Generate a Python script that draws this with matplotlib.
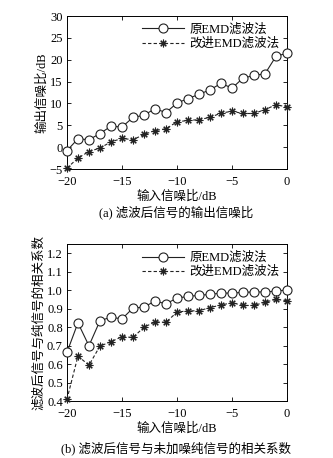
import matplotlib
matplotlib.use('Agg')
import matplotlib.pyplot as plt
import numpy as np

plt.rcParams['font.family'] = ['Liberation Serif', 'Noto Sans CJK SC']
plt.rcParams['axes.unicode_minus'] = True

# input SNR (dB)
snr_in = np.arange(-20, 1, 1)

# (a) output SNR
out_orig = [-0.8, 1.9, 1.7, 3.1, 4.8, 4.6, 6.8, 7.3, 8.8, 7.9, 10.1,
            11.1, 12.1, 13.1, 14.6, 13.5, 15.8, 16.4, 16.8, 20.8, 21.5]
out_impr = [-4.8, -2.5, -1.0, -0.2, 1.2, 2.0, 1.7, 2.9, 3.8, 4.2, 5.8,
            6.1, 6.3, 6.8, 7.8, 8.2, 7.7, 7.7, 8.6, 9.7, 9.2]

# (b) correlation coefficient
cor_orig = [0.664, 0.824, 0.700, 0.835, 0.855, 0.845, 0.904, 0.909, 0.942, 0.927, 0.958,
            0.967, 0.973, 0.978, 0.985, 0.985, 0.989, 0.991, 0.991, 0.996, 1.002]
cor_impr = [0.410, 0.644, 0.595, 0.698, 0.722, 0.749, 0.745, 0.800, 0.829, 0.827, 0.882,
            0.889, 0.889, 0.907, 0.920, 0.933, 0.918, 0.918, 0.936, 0.951, 0.944]

lab_orig = '原EMD滤波法'
lab_impr = '改进EMD滤波法'

fig = plt.figure(figsize=(3.33, 4.58), dpi=100)
ax1 = fig.add_axes([0.201, 0.631, 0.661, 0.334])
ax2 = fig.add_axes([0.201, 0.124, 0.661, 0.343])


def style(ax):
    ax.tick_params(direction='in', top=True, right=True, labelsize=9, length=3, width=0.6, pad=3)
    ax.tick_params(axis='x', pad=5)
    for s in ax.spines.values():
        s.set_linewidth(0.7)
    ax.set_xlim(-20, 0)
    ax.set_xticks([-20, -15, -10, -5, 0])


asterisk = (8, 2, 0)

for ax, yo, yi in [(ax1, out_orig, out_impr), (ax2, cor_orig, cor_impr)]:
    ax.plot(snr_in, yo, '-', color='#222222', lw=0.8, marker='o', ms=6.5,
            mfc='white', mec='#222222', mew=0.8, label=lab_orig, clip_on=False, zorder=3)
    ax.plot(snr_in, yi, color='#222222', lw=0.8, ls=(0, (3, 2)), marker=asterisk, ms=5.5,
            mec='#222222', mew=0.8, label=lab_impr, clip_on=False, zorder=3)
    style(ax)
    ax.legend(loc='upper right', frameon=False, fontsize=9, handlelength=3.4,
              borderaxespad=0.2, labelspacing=0.15, handletextpad=0.4)
    ax.set_xlabel('输入信噪比/dB', fontsize=9, labelpad=2)

ax1.set_ylim(-5, 30)
ax1.set_yticks(np.arange(-5, 31, 5))
ax1.set_ylabel('输出信噪比/dB', fontsize=9, labelpad=1)

ax2.set_ylim(0.4, 1.25)
ax2.set_yticks(np.arange(0.4, 1.21, 0.1))
ax2.set_yticklabels(['%.1f' % v for v in np.arange(0.4, 1.21, 0.1)])
ax2.set_ylabel('滤波后信号与纯信号的相关系数', fontsize=9, labelpad=1)

fig.text(0.53, 0.537, '(a) 滤波后信号的输出信噪比', ha='center', va='center', fontsize=9)
fig.text(0.53, 0.022, '(b) 滤波后信号与未加噪纯信号的相关系数', ha='center', va='center', fontsize=9)

fig.savefig('out.png', dpi=100)
